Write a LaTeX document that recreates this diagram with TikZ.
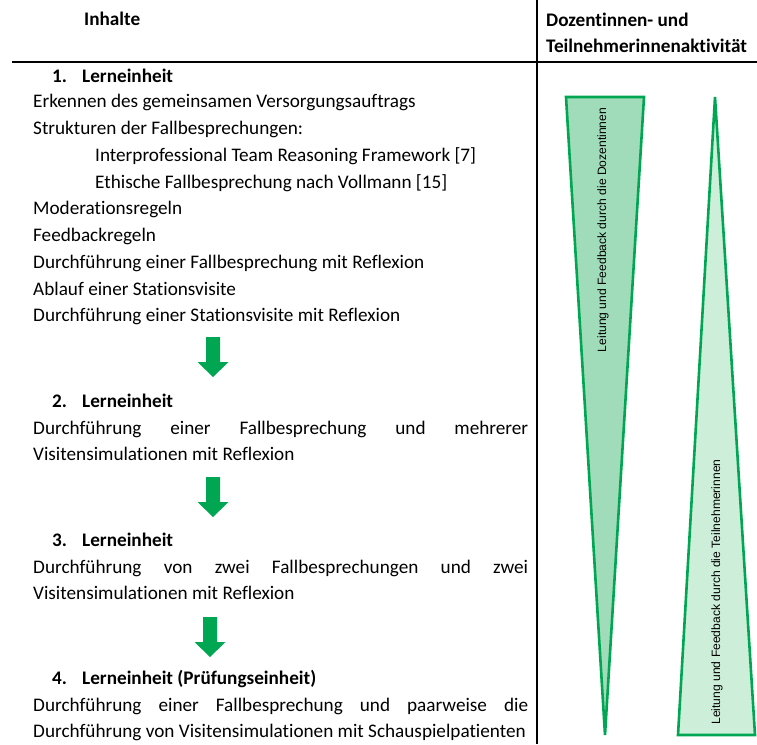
\documentclass[tikz,border=0pt]{standalone}
\usepackage{fontspec}
\setmainfont[Ligatures=NoCommon]{Carlito}
\newfontfamily\trifont{Liberation Sans}
\usetikzlibrary{positioning,calc}
\definecolor{lehrgreen}{RGB}{0,166,81}
\definecolor{dozfill}{RGB}{160,220,186}
\definecolor{tnfill}{RGB}{205,238,217}

\tikzset{
  txt/.style={anchor=base west, inner sep=0pt, font=\fontsize{19.2}{26.7}\selectfont},
  head/.style={txt, font=\fontsize{19.2}{26.7}\selectfont\bfseries},
  tritxt/.style={inner sep=0pt, rotate=90, font=\trifont\fontsize{12.1}{14}\selectfont},
  tri/.style={draw=lehrgreen, line width=2.6pt, line join=miter}
}

\begin{document}
\begin{tikzpicture}[x=1pt, y=-1pt]
    \useasboundingbox (0,0) rectangle (757,744);

    % Table rules
    \draw[line width=2pt] (12,62) -- (757,62);
    \draw[line width=2pt] (537,0) -- (537,744);

    % Header
    \node[head] (inhalte) at (84,25) {Inhalte};
    \node[head] (doz) at (546,26) {Dozentinnen- und};
    \node[head] (tn) at (546,52) {Teilnehmerinnenaktivität};

    % 1. Lerneinheit
    \node[head] (n1) at (52,82) {1.};
    \node[head] (le1) at (82,82) {Lerneinheit};
    \node[txt] (a1) at (33,107) {Erkennen des gemeinsamen Versorgungsauftrags};
    \node[txt] (a2) at (33,134) {Strukturen der Fallbesprechungen:};
    \node[txt] (a3) at (95,161) {Interprofessional Team Reasoning Framework [7]};
    \node[txt] (a4) at (95,188) {Ethische Fallbesprechung nach Vollmann [15]};
    \node[txt] (a5) at (33,214) {Moderationsregeln};
    \node[txt] (a6) at (33,241) {Feedbackregeln};
    \node[txt] (a7) at (33,268) {Durchführung einer Fallbesprechung mit Reflexion};
    \node[txt] (a8) at (33,295) {Ablauf einer Stationsvisite};
    \node[txt] (a9) at (33,321) {Durchführung einer Stationsvisite mit Reflexion};

    % 2. Lerneinheit
    \node[head] (n2) at (52,407) {2.};
    \node[head] (le2) at (82,407) {Lerneinheit};
    \node[txt] (b1) at (33,434) {\hbox to 495pt{Durchführung\hfill einer\hfill Fallbesprechung\hfill und\hfill mehrerer}};
    \node[txt] (b2) at (33,460) {Visitensimulationen mit Reflexion};

    % 3. Lerneinheit
    \node[head] (n3) at (52,546) {3.};
    \node[head] (le3) at (82,546) {Lerneinheit};
    \node[txt] (c1) at (33,573) {\hbox to 495pt{Durchführung\hfill von\hfill zwei\hfill Fallbesprechungen\hfill und\hfill zwei}};
    \node[txt] (c2) at (33,599) {Visitensimulationen mit Reflexion};

    % 4. Lerneinheit
    \node[head] (n4) at (52,684) {4.};
    \node[head] (le4) at (82,684) {Lerneinheit (Prüfungseinheit)};
    \node[txt] (d1) at (33,711) {\hbox to 495pt{Durchführung\hfill einer\hfill Fallbesprechung\hfill und\hfill paarweise\hfill die}};
    \node[txt] (d2) at (33,737) {Durchführung von Visitensimulationen mit Schauspielpatienten};

    % Arrows between the units
    \foreach \ax/\ay in {213/337, 213/477, 210/617}
        \fill[lehrgreen] (\ax-7,\ay) -- (\ax+7,\ay) -- (\ax+7,\ay+25) -- (\ax+15.5,\ay+25)
            -- (\ax,\ay+40) -- (\ax-15.5,\ay+25) -- (\ax-7,\ay+25) -- cycle;

    % Activity triangles
    \draw[tri, fill=dozfill] (566,97) -- (644,97) -- (605,735) -- cycle;
    \draw[tri, fill=tnfill] (715,97) -- (755,735) -- (678,735) -- cycle;
    \node[tritxt] (dozlabel) at (603,230) {Leitung und Feedback durch die Dozentinnen};
    \node[tritxt] (tnlabel) at (717,592) {Leitung und Feedback durch die Teilnehmerinnen};
\end{tikzpicture}
\end{document}
